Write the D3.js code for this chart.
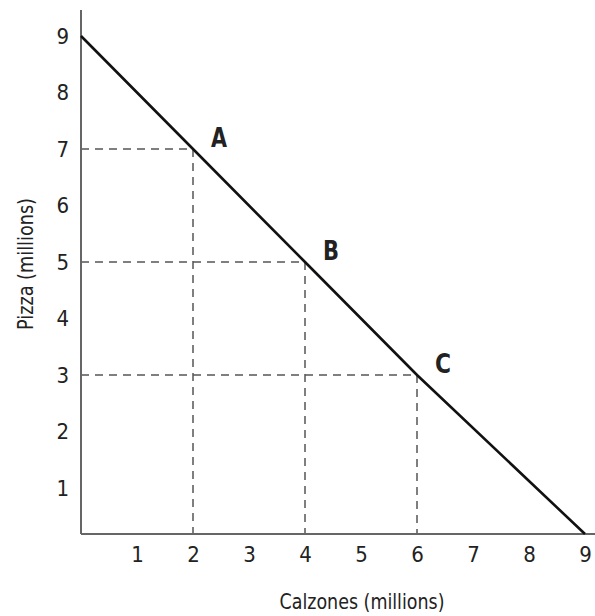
<!DOCTYPE html>
<html><head><meta charset="utf-8">
<script src="https://cdn.jsdelivr.net/npm/d3@7"></script>
<style>
html,body{margin:0;padding:0;background:#fff;}
svg text{font-family:"DejaVu Sans Condensed","DejaVu Sans",sans-serif;font-stretch:condensed;fill:#222;}
</style></head>
<body>
<svg id="c" width="595" height="616"></svg>
<script>
// Data
const frontierCalzones = [0, 2, 4, 6, 9];
const frontierPizza    = [9, 7, 5, 3, 0];
const pointLabels   = ["A", "B", "C"];
const pointCalzones = [2, 4, 6];
const pointPizza    = [7, 5, 3];
const xTicks = [1, 2, 3, 4, 5, 6, 7, 8, 9];
const yTicks = [1, 2, 3, 4, 5, 6, 7, 8, 9];
const xTitle = "Calzones (millions)";
const yTitle = "Pizza (millions)";

const svg = d3.select("#c");
const x = d3.scaleLinear().domain([0, 9]).range([81, 585]);
const y = d3.scaleLinear().domain([0, 1, 9]).range([534, 488, 36]);

const pts = pointLabels.map((l, i) => ({l, cx: pointCalzones[i], py: pointPizza[i]}));
const g = svg.append("g");
pts.forEach(p => {
  g.append("line").attr("x1", x(0)).attr("x2", x(p.cx)).attr("y1", y(p.py)).attr("y2", y(p.py))
    .attr("stroke", "#555").attr("stroke-width", 1.5).attr("stroke-dasharray", "8,6");
  g.append("line").attr("x1", x(p.cx)).attr("x2", x(p.cx)).attr("y1", y(p.py)).attr("y2", y(0))
    .attr("stroke", "#555").attr("stroke-width", 1.5).attr("stroke-dasharray", "8,6");
});

svg.append("line").attr("x1", x(0)).attr("x2", x(0)).attr("y1", 10).attr("y2", y(0))
  .attr("stroke", "#666").attr("stroke-width", 2);
svg.append("line").attr("x1", x(0)).attr("x2", 595).attr("y1", y(0)).attr("y2", y(0))
  .attr("stroke", "#666").attr("stroke-width", 2);

const ax = svg.append("g").attr("transform", `translate(0,${y(0)})`)
  .call(d3.axisBottom(x).tickValues(xTicks).tickSize(0).tickPadding(12));
ax.select(".domain").remove();
ax.selectAll("text").style("font-size", "22px").attr("fill", "#222");

const ay = svg.append("g").attr("transform", `translate(${x(0) - 12},0)`)
  .call(d3.axisLeft(y).tickValues(yTicks).tickSize(0).tickPadding(0));
ay.select(".domain").remove();
ay.selectAll("text").style("font-size", "22px").attr("fill", "#222");

const line = d3.line().x(d => x(d[0])).y(d => y(d[1]));
svg.append("path").datum(frontierCalzones.map((c, i) => [c, frontierPizza[i]]))
  .attr("d", line).attr("fill", "none").attr("stroke", "#111").attr("stroke-width", 2.6);

svg.selectAll("text.pl").data(pts).enter().append("text").attr("class", "pl")
  .attr("x", d => x(d.cx) + 26).attr("y", d => y(d.py) - 2)
  .attr("text-anchor", "middle").style("font-size", "26px").style("font-weight", "bold")
  .attr("textLength", 16).attr("lengthAdjust", "spacingAndGlyphs")
  .text(d => d.l);

svg.append("text").attr("x", 362).attr("y", 609).attr("text-anchor", "middle")
  .style("font-size", "22px").attr("textLength", 165).attr("lengthAdjust", "spacingAndGlyphs")
  .text(xTitle);
svg.append("text").attr("transform", "translate(33,264) rotate(-90)").attr("text-anchor", "middle")
  .style("font-size", "22px").attr("textLength", 132).attr("lengthAdjust", "spacingAndGlyphs")
  .text(yTitle);
</script>
</body></html>
